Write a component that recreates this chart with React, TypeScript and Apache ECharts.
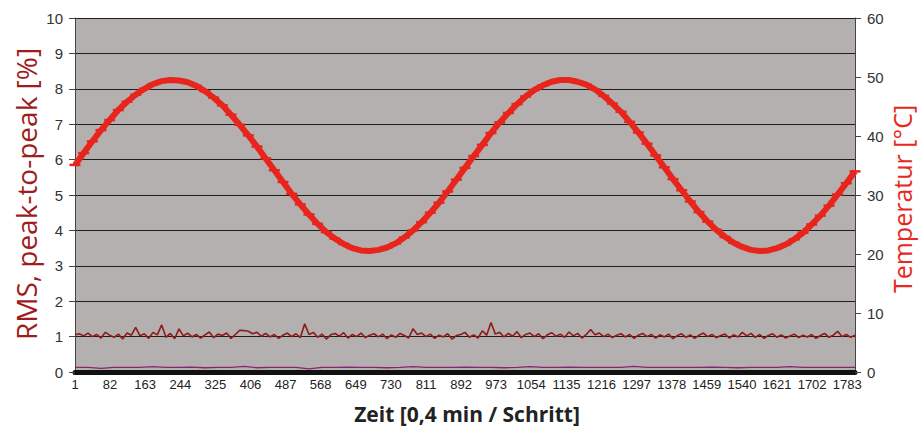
import React, { useEffect, useRef } from "react";
import * as echarts from "echarts";

// Sampling step (in measurement steps) of each read-off series
const TEMP_STEP = 20;
const RMS_STEP = 10;
const PP_STEP = 30;

// Temperature [°C], right axis, every 20 steps
const temperature = [
  35.1, 37.1, 39.1, 41.0, 42.7, 44.4, 45.8, 47.0, 48.0, 48.8,
  49.3, 49.5, 49.4, 49.1, 48.5, 47.6, 46.5, 45.2, 43.6, 41.9,
  40.1, 38.2, 36.2, 34.2, 32.2, 30.2, 28.4, 26.7, 25.1, 23.7,
  22.6, 21.7, 21.0, 20.6, 20.5, 20.7, 21.1, 21.8, 22.8, 24.0,
  25.4, 27.0, 28.7, 30.6, 32.6, 34.6, 36.6, 38.5, 40.5, 42.3,
  43.9, 45.4, 46.7, 47.8, 48.6, 49.2, 49.5, 49.5, 49.2, 48.7,
  47.9, 46.8, 45.5, 44.1, 42.4, 40.6, 38.7, 36.7, 34.7, 32.7,
  30.8, 28.9, 27.1, 25.5, 24.1, 22.9, 21.9, 21.2, 20.7, 20.5,
  20.6, 21.0, 21.6, 22.5, 23.6, 25.0, 26.5, 28.2, 30.1, 32.0,
  34.0,
];

// RMS [%], left axis, every 10 steps
const rms = [
  1.05, 1.08, 1.02, 1.1, 1.0, 1.06, 0.96, 1.12, 1.04, 0.98,
  1.07, 0.93, 1.1, 1.04, 1.26, 1.02, 1.08, 0.95, 1.12, 1.05,
  1.33, 0.98, 1.09, 0.94, 1.22, 1.02, 1.1, 0.99, 1.06, 0.96,
  1.05, 1.13, 0.97, 1.07, 1.03, 1.1, 0.95, 1.06, 1.18, 1.17,
  1.15, 1.08, 1.12, 1.01, 1.09, 0.99, 1.06, 0.95, 1.04, 1.1,
  1.0, 1.08, 0.97, 1.36, 1.06, 1.12, 0.98, 1.07, 0.93, 1.05,
  1.09, 1.01, 1.11, 0.96, 1.06, 1.0, 1.1, 0.97, 1.04, 1.08,
  0.99, 1.07, 0.94, 1.05, 0.98, 1.09, 1.03, 0.96, 1.22, 1.06,
  1.1, 1.0, 1.07, 0.95, 1.04, 0.99, 1.08, 0.93, 1.03, 1.06,
  1.12, 0.98, 1.05, 0.96, 1.16, 1.04, 1.4, 1.07, 1.12, 0.99,
  1.09, 1.01, 1.14, 0.97, 1.06, 1.1, 1.0, 1.08, 0.94, 1.05,
  1.11, 1.01, 1.07, 0.98, 1.13, 1.02, 1.09, 0.96, 1.06, 1.2,
  1.05, 1.1, 1.0, 1.07, 0.97, 1.04, 1.08, 0.99, 1.06, 0.95,
  1.04, 1.09, 1.0, 1.06, 0.96, 1.05, 0.99, 1.07, 0.94, 1.03,
  1.08, 0.98, 1.05, 0.95, 1.04, 1.1, 1.0, 1.06, 0.97, 1.03,
  1.07, 0.96, 1.05, 0.99, 1.12, 1.02, 1.09, 0.98, 1.06, 0.95,
  1.03, 1.08, 0.98, 1.05, 0.96, 1.02, 1.07, 0.97, 1.04, 0.99,
  1.06, 0.95, 1.03, 1.09, 0.98, 1.04, 1.15, 1.0, 1.06, 0.98,
  1.04,
];

// Peak-to-peak [%], left axis, every 30 steps
const peakToPeak = [
  0.13, 0.13, 0.1, 0.13, 0.13, 0.13, 0.15, 0.13, 0.13, 0.14,
  0.12, 0.13, 0.13, 0.16, 0.12, 0.13, 0.13, 0.13, 0.09, 0.13,
  0.13, 0.14, 0.13, 0.13, 0.12, 0.13, 0.15, 0.13, 0.13, 0.13,
  0.14, 0.13, 0.13, 0.12, 0.13, 0.15, 0.13, 0.13, 0.14, 0.13,
  0.13, 0.13, 0.13, 0.16, 0.13, 0.13, 0.13, 0.13, 0.13, 0.14,
  0.13, 0.12, 0.13, 0.13, 0.13, 0.15, 0.13, 0.13, 0.13, 0.13,
  0.13,
];

const X_LABEL_INTERVAL = 81;
const X_MAX = 1800;

const toPairs = (vals: number[], step: number) => vals.map((v, i) => [i * step, v]);

export default function App() {
  const ref = useRef<HTMLDivElement>(null);
  useEffect(() => {
    document.body.style.margin = "0";
    const chart = echarts.init(ref.current!, null, { renderer: "svg" });
    chart.setOption({
      animation: false,
      backgroundColor: "#ffffff",
      grid: {
        left: 75,
        right: 64,
        top: 18,
        bottom: 58,
        show: true,
        backgroundColor: "#b3b0af",
        borderWidth: 0,
      },
      xAxis: {
        type: "value",
        min: 0,
        max: X_MAX,
        interval: X_LABEL_INTERVAL,
        axisLine: { show: true, lineStyle: { color: "#111111", width: 5 } },
        axisTick: { show: false },
        splitLine: { show: false },
        axisLabel: {
          margin: 6,
          showMaxLabel: false,
          color: "#222222",
          fontSize: 13,
          fontFamily: "Liberation Sans, Arial",
          formatter: (v: number) => String(v + 1),
        },
      },
      yAxis: [
        {
          type: "value",
          min: 0,
          max: 10,
          interval: 1,
          position: "left",
          axisLine: { show: true, lineStyle: { color: "#444444", width: 1 } },
          axisTick: { show: true, length: 6, lineStyle: { color: "#444444" } },
          splitLine: { show: true, lineStyle: { color: "#1e1e1e", width: 1 } },
          axisLabel: {
            margin: 12,
            color: "#333333",
            fontSize: 15,
            fontFamily: "Liberation Sans, Arial",
          },
        },
        {
          type: "value",
          min: 0,
          max: 60,
          interval: 10,
          position: "right",
          axisLine: { show: true, lineStyle: { color: "#444444", width: 1 } },
          axisTick: { show: true, length: 6, lineStyle: { color: "#444444" } },
          splitLine: { show: false },
          axisLabel: {
            margin: 12,
            color: "#333333",
            fontSize: 15,
            fontFamily: "Liberation Sans, Arial",
          },
        },
      ],
      series: [
        {
          name: "Peak-to-peak",
          type: "line",
          yAxisIndex: 0,
          data: toPairs(peakToPeak, PP_STEP),
          showSymbol: false,
          lineStyle: { color: "#8a2470", width: 1.3 },
        },
        {
          name: "RMS",
          type: "line",
          yAxisIndex: 0,
          data: toPairs(rms, RMS_STEP),
          showSymbol: false,
          lineStyle: { color: "#8f1a1a", width: 1.6 },
        },
        {
          name: "Temperatur",
          type: "line",
          yAxisIndex: 1,
          data: toPairs(temperature, TEMP_STEP),
          symbol: "rect",
          symbolSize: [11, 2.5],
          showAllSymbol: true,
          itemStyle: { color: "#e8251c" },
          lineStyle: { color: "#e8251c", width: 6 },
        },
      ],
      graphic: [
        {
          type: "text",
          x: 26,
          y: 194,
          rotation: Math.PI / 2,
          style: {
            text: "RMS, peak-to-peak [%]",
            fill: "#9e1c1c",
            font: '28px "Open Sans", sans-serif',
            align: "center",
            verticalAlign: "middle",
          },
        },
        {
          type: "text",
          x: 902,
          y: 199,
          rotation: Math.PI / 2,
          style: {
            text: "Temperatur [°C]",
            fill: "#e8281e",
            font: '25px "Open Sans", sans-serif',
            align: "center",
            verticalAlign: "middle",
          },
        },
        {
          type: "text",
          x: 467,
          y: 414,
          style: {
            text: "Zeit [0,4 min / Schritt]",
            fill: "#222222",
            font: 'bold 21px "Open Sans", sans-serif',
            align: "center",
            verticalAlign: "middle",
          },
        },
      ],
    });
    return () => chart.dispose();
  }, []);
  return <div ref={ref} style={{ width: 919, height: 430 }} />;
}
